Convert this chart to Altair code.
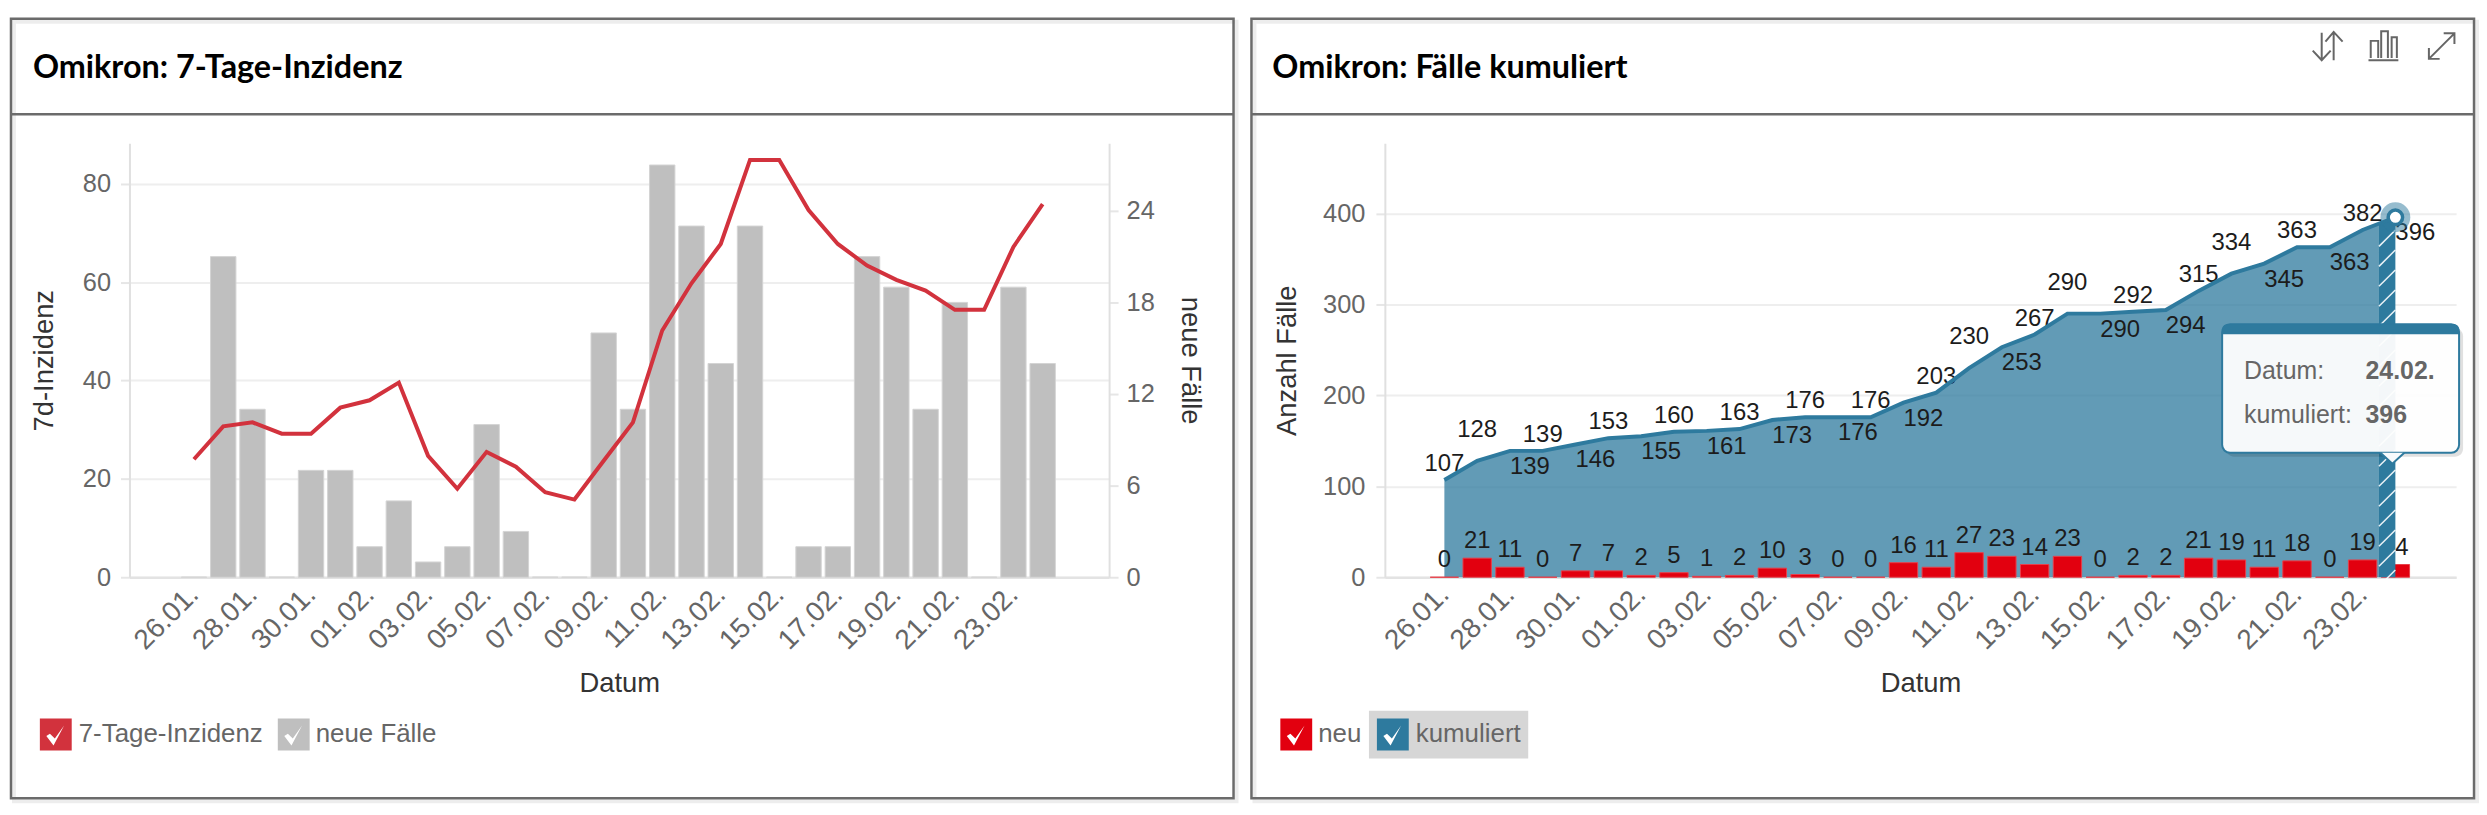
import json
import altair as alt
import pandas as pd

# ---- chart values ----
neu = [0, 21, 11, 0, 7, 7, 2, 5, 1, 2, 10, 3, 0, 0, 16, 11, 27, 23, 14, 23, 0, 2, 2, 21, 19, 11, 18, 0, 19, 14]
kumuliert = [107, 128, 139, 139, 146, 153, 155, 160, 161, 163, 173, 176, 176, 176, 192, 203, 230, 253, 267, 290,
             290, 292, 294, 315, 334, 345, 363, 363, 382, 396]
inzidenz = [24.0, 30.7, 31.5, 29.2, 29.2, 34.5, 36.0, 39.6, 24.7, 18.0, 25.5, 22.5, 17.3, 15.8, 23.7, 31.5, 50.2,
            59.8, 67.8, 84.9, 84.9, 74.7, 67.8, 63.4, 60.5, 58.3, 54.4, 54.4, 67.2, 75.9]
tage = list(range(30))
tick_days = list(range(0, 30, 2))
tick_labels = ["26.01.", "28.01.", "30.01.", "01.02.", "03.02.", "05.02.", "07.02.", "09.02.", "11.02.", "13.02.",
               "15.02.", "17.02.", "19.02.", "21.02.", "23.02."]
raised_labels = [1, 16, 19, 24]
upper_labels = [0, 3, 5, 7, 9, 11, 13, 15, 18, 21, 23, 26, 28]
lower_labels = [2, 4, 6, 8, 10, 12, 14, 17, 20, 22, 25, 27, 29]
zone_start = (28.5, 389)

FONT = "Liberation Sans"
RED_L, GREY, RED_R, BLUE = "#d2323d", "#bfbfbf", "#e2000f", "#2e7a9e"
FRAME = "#6b6b6b"

df = pd.DataFrame({"t": tage, "neu": neu, "kum": kumuliert, "inz": inzidenz})
one = pd.DataFrame({"a": [0]})


def x_enc(dom):
    expr = json.dumps(tick_labels) + "[datum.value/2]"
    return alt.X("t:Q", scale=alt.Scale(domain=dom, nice=False, zero=False),
                 axis=alt.Axis(values=tick_days, labelExpr=expr, labelAngle=315, labelAlign="right",
                               labelBaseline="middle", labelPadding=13, labelOverlap=False, labelBound=False,
                               labelFlush=False, labelFont=FONT, labelFontSize=28, labelColor="#666666",
                               ticks=False, grid=False, domainColor="#e3e3e3", domainWidth=2.5,
                               title="Datum", titleFont=FONT, titleFontSize=27.5, titleFontWeight="normal",
                               titleColor="#333333", titleY=107, titleBaseline="middle"))


def y_axis(vals, orient, title, title_x, angle, grid, pad):
    return alt.Axis(values=vals, orient=orient, grid=grid, gridColor="#eeeeee", gridWidth=2,
                    domainColor="#e0e0e0", domainWidth=2, tickColor="#e6e6e6", tickWidth=2, tickSize=9,
                    labelFont=FONT, labelFontSize=25.5, labelColor="#666666", labelPadding=pad,
                    title=title, titleFont=FONT, titleFontSize=27.5, titleFontWeight="normal", titleColor="#333333",
                    titleX=title_x, titleAngle=angle, titleBaseline="middle")


class Panel:
    def __init__(self, ox, oy):
        self.ox, self.oy = ox, oy

    def rect(self, x0, x1, y0, y1, **kw):
        return alt.Chart(one).mark_rect(**kw).encode(
            x=alt.value(x0 - self.ox), x2=alt.value(x1 - self.ox),
            y=alt.value(y0 - self.oy), y2=alt.value(y1 - self.oy))

    def text(self, s, x, y, size=26, color="#666666", font=FONT, weight="normal", align="left"):
        return alt.Chart(one).mark_text(text=s, align=align, baseline="middle", font=font, fontSize=size,
                                        fontWeight=weight, color=color).encode(
            x=alt.value(x - self.ox), y=alt.value(y - self.oy))

    def path(self, d, x, y, s, **kw):
        return alt.Chart(one).mark_point(shape=d, size=s * s, opacity=1, **kw).encode(
            x=alt.value(x - self.ox), y=alt.value(y - self.oy))

    def frame(self, x0, x1, title, title_x):
        y0, y1, div = 16, 799, 112
        return [
            self.rect(x0 + 3, x1 + 3, y0 + 3, y1 + 3, fillOpacity=0, stroke="#000000", strokeOpacity=0.07, strokeWidth=4),
            self.rect(x0, x1, y0, y1, fillOpacity=0, stroke=FRAME, strokeWidth=2.5),
            self.rect(x0, x1, div, div, fillOpacity=0, stroke=FRAME, strokeWidth=2.5),
            self.text(title, title_x, 66, size=32.5, color="#000000", font="Lato", weight="bold"),
        ]

    def legend_box(self, x0, color, label, text_x):
        check = "M-0.5,0.03 L-0.31,-0.09 L-0.05,0.16 L0.44,-0.53 L-0.12,0.53 Z"
        return [
            self.rect(x0, x0 + 32, 719, 751, fill=color),
            self.path(check, x0 + 16, 736, 38, filled=True, fill="#ffffff", strokeWidth=0),
            self.text(label, text_x, 734),
        ]


# ---- left panel ----
L = Panel(129, 141)
W1, H = 984, 436
x1 = x_enc([-2.034, 31.1])
bars_l = alt.Chart(df).mark_bar(orient="vertical", size=25.5, fill=GREY, stroke="#d4d4d4", strokeWidth=1).encode(
    x=x1,
    y=alt.Y("neu:Q", scale=alt.Scale(domain=[0, 28.43], nice=False),
            axis=y_axis([0, 6, 12, 18, 24], "right", "neue Fälle", 81, 90, False, 8)))
line_l = alt.Chart(df).mark_line(color=RED_L, strokeWidth=4).encode(
    x=x1,
    y=alt.Y("inz:Q", scale=alt.Scale(domain=[0, 88.3], nice=False),
            axis=y_axis([0, 20, 40, 60, 80], "left", "7d-Inzidenz", -85, -90, True, 10)))
left = alt.layer(
    *L.frame(10, 1238, "Omikron: 7-Tage-Inzidenz", 32), bars_l, line_l,
    *L.legend_box(39, RED_L, "7-Tage-Inzidenz", 78), *L.legend_box(278, GREY, "neue Fälle", 316),
).resolve_scale(y="independent").properties(width=W1, height=H)

# ---- right panel ----
R = Panel(1388, 141)
W2 = 1076
x2 = x_enc([-1.663, 30.7])
y_dom = alt.Scale(domain=[0, 477.5], nice=False)
y2 = alt.Y("kum:Q", scale=y_dom, axis=y_axis([0, 100, 200, 300, 400], "left", "Anzahl Fälle", -98, -90, True, 11))
xp = alt.X("t:Q")

area_df = pd.concat([df[df.t <= 28][["t", "kum"]],
                     pd.DataFrame({"t": [zone_start[0]], "kum": [zone_start[1]]})])
zone_df = pd.DataFrame({"t": [zone_start[0], 29], "kum": [zone_start[1], kumuliert[-1]]})
hatch_df = pd.DataFrame({"t": zone_start[0], "t2": 29, "h": list(range(-10, 372, 22))})
hatch_df["h2"] = hatch_df["h"] + 18

area = alt.Chart(area_df).mark_area(color=BLUE, opacity=0.75).encode(x=x2, y=y2)
bars_r = alt.Chart(df).mark_bar(orient="vertical", size=28.5, fill=RED_R, stroke="#e8404a", strokeWidth=1).encode(
    x=xp, y=alt.Y("neu:Q", scale=y_dom))


def labels(source_field, rows, dx, dy):
    d = df[df.t.isin(rows)]
    return alt.Chart(d).mark_text(font=FONT, fontSize=24, color="#1c1c1c", baseline="middle", dx=dx, dy=dy).encode(
        x=xp, y=alt.Y(f"{source_field}:Q", scale=y_dom), text=f"{source_field}:Q")


zone = alt.Chart(zone_df).mark_area(color=BLUE, opacity=1).encode(x=xp, y=alt.Y("kum:Q", scale=y_dom))
hatch = alt.Chart(hatch_df).mark_rule(color="#ffffff", strokeWidth=1.5, opacity=0.9).encode(
    x=xp, x2="t2:Q", y=alt.Y("h:Q", scale=alt.Scale(domain=[0, 477.5], nice=False)), y2="h2:Q")
line_r = alt.Chart(df).mark_line(color=BLUE, strokeWidth=4).encode(x=xp, y=alt.Y("kum:Q", scale=y_dom))
last = df[df.t == 29]
halo = alt.Chart(last).mark_circle(size=900, color=BLUE, opacity=0.5).encode(x=xp, y=alt.Y("kum:Q", scale=y_dom))
dot = alt.Chart(last).mark_point(size=210, filled=True, fill="#ffffff", stroke=BLUE, strokeWidth=3.5, opacity=1,
                                 shape="circle").encode(x=xp, y=alt.Y("kum:Q", scale=y_dom))

tip = [
    R.rect(2233, 2471, 327, 456, fill="#000000", opacity=0.12, cornerRadius=8),
    R.rect(2229, 2467, 323, 452, fill="#ffffff", fillOpacity=0.95, stroke=BLUE, strokeWidth=2, cornerRadius=8),
    R.rect(2229, 2467, 323, 333, fill=BLUE, cornerRadiusTopLeft=8, cornerRadiusTopRight=8),
    R.path("M-1,-0.46 L0,0.46 L1,-0.46", 2400, 457.5, 24, filled=True, fill="#f7fafc", stroke=BLUE, strokeWidth=2),
    R.text("Datum:", 2251, 370, size=25),
    R.text("24.02.", 2373, 370, size=25, weight="bold"),
    R.text("kumuliert:", 2251, 414, size=25),
    R.text("396", 2373, 414, size=25, weight="bold"),
]

sort_icon = ("M-0.4,-0.9 L-0.4,0.95 M-1,0.3 L-0.4,0.95 L0.2,0.3 "
             "M0.4,0.95 L0.4,-0.95 M-0.15,-0.3 L0.4,-0.95 L1,-0.3")
bar_icon = ("M-1,0.95 L1,0.95 M-0.85,0.8 L-0.85,-0.35 L-0.35,-0.35 L-0.35,0.8 "
            "M-0.15,0.8 L-0.15,-1 L0.3,-1 L0.3,0.8 M0.55,0.8 L0.55,-0.6 L0.9,-0.6 L0.9,0.8")
exp_icon = "M-0.95,0.95 L0.95,-0.95 M0.15,-0.95 L0.95,-0.95 L0.95,-0.15 M-0.95,0.15 L-0.95,0.95 L-0.15,0.95"
icons = [R.path(d, x, 43.5, s, filled=False, stroke="#666666", strokeWidth=2)
         for d, x, s in [(sort_icon, 2335, 30), (bar_icon, 2391, 30), (exp_icon, 2449.5, 27)]]

right = alt.layer(
    *R.frame(1254, 2482, "Omikron: Fälle kumuliert", 1275), *icons,
    area, bars_r,
    labels("neu", tage, 0, -17),
    labels("kum", upper_labels, 0, -16), labels("kum", raised_labels, 0, -31), labels("kum", lower_labels, 20, 16),
    zone, hatch, line_r, halo, dot,
    R.rect(1372, 1532, 711, 759, fill="#d6d6d6"),
    *R.legend_box(1283, RED_R, "neu", 1321), *R.legend_box(1380, BLUE, "kumuliert", 1419),
    *tip,
).properties(width=W2, height=H)

chart = alt.hconcat(left, right, spacing=11).properties(
    padding={"left": 1, "top": 7, "right": 0, "bottom": 0},
    background="#ffffff",
).configure_view(strokeWidth=0)

chart.save("out.html", embed_options={"renderer": "svg", "actions": False})
